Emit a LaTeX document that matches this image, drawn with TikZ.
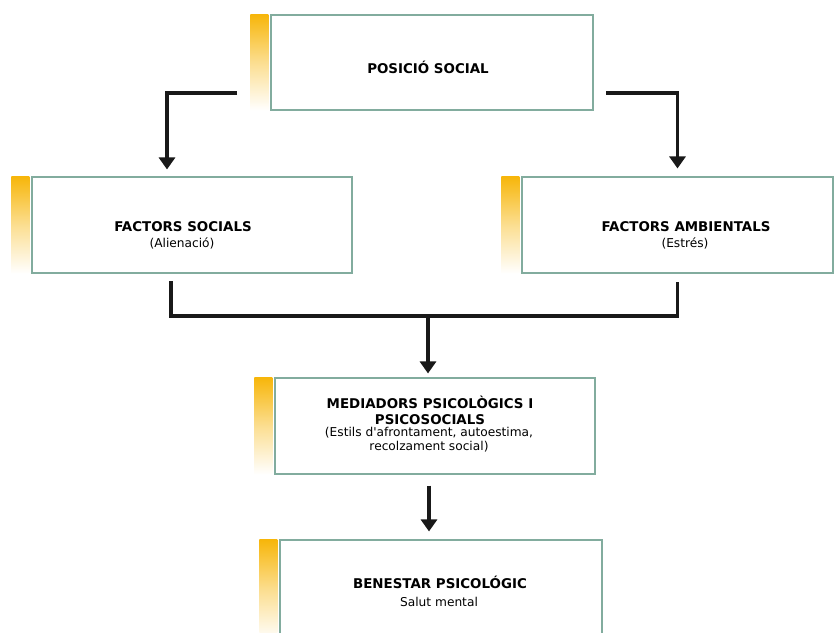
\documentclass[tikz,border=0pt]{standalone}
\usepackage{fontspec}
\setmainfont{DejaVu Sans}
\usetikzlibrary{arrows.meta,calc}
\definecolor{boxline}{RGB}{130,172,158}
\definecolor{stripor}{RGB}{247,182,10}
\tikzset{
  boxnode/.style={draw=boxline, line width=1.1pt, fill=white, rectangle, inner sep=0pt},
  titletext/.style={font=\bfseries\fontsize{13.4}{16}\selectfont, align=center, inner sep=0pt},
  subtext/.style={font=\fontsize{12.2}{14}\selectfont, align=center, inner sep=0pt},
  conn/.style={line width=3.1pt, black!90, -{Triangle[width=16pt,length=12pt]}},
  barline/.style={line width=3.1pt, black!90, line cap=rect},
}
\newcommand{\mystrip}[1]{%
  \shade[top color=stripor, bottom color=white, middle color=stripor!45]
    ([xshift=-20pt]#1.north west) rectangle ([xshift=-2pt]#1.south west);}
\begin{document}
\begin{tikzpicture}[x=1pt,y=-1pt]
\useasboundingbox (0,0) rectangle (835,632);
% boxes
\node[boxnode, minimum width=322pt, minimum height=95pt] (p) at (432,62.5) {};
\node[boxnode, minimum width=320pt, minimum height=96pt] (s) at (192,225) {};
\node[boxnode, minimum width=311pt, minimum height=96pt] (a) at (677.5,225) {};
\node[boxnode, minimum width=320pt, minimum height=96pt] (m) at (435,426) {};
\node[boxnode, minimum width=322pt, minimum height=100pt] (b) at (441,590) {};
\mystrip{p}\mystrip{s}\mystrip{a}\mystrip{m}\mystrip{b}
% texts
\node[titletext] (pt) at (428,67) {POSICIÓ SOCIAL};
\node[titletext] (st) at (183,227) {FACTORS SOCIALS};
\node[subtext] (ss) at (182,243) {(Alienació)};
\node[titletext] (at) at (686,227) {FACTORS AMBIENTALS};
\node[subtext] (as) at (685,243) {(Estrés)};
\node[titletext] (mt) at (430,410) {MEDIADORS PSICOLÒGICS I\\PSICOSOCIALS};
\node[subtext] (ms) at (429,440) {(Estils d\textquotesingle afrontament, autoestima,\\recolzament social)};
\node[titletext] (bt) at (440,582) {BENESTAR PSICOLÓGIC};
\node[subtext] (bs) at (439,602) {Salut mental};
% connectors
\coordinate (pl) at (237,93);
\coordinate (pr) at (606,93);
\draw[conn] (pl) -| ([xshift=-25pt,yshift=7pt]s.north);
\draw[conn] (pr) -| ([yshift=8pt]a.north);
\coordinate (j) at (428,316);
\draw[barline] ([xshift=-21pt,yshift=-9pt]s.south) |- (j) -| ([yshift=-10pt]a.south);
\draw[conn] (j) -- ([yshift=4pt]m.north -| j);
\draw[conn] ([xshift=-6pt,yshift=-11pt]m.south) -- ([xshift=-12pt,yshift=8pt]b.north);
\end{tikzpicture}
\end{document}
